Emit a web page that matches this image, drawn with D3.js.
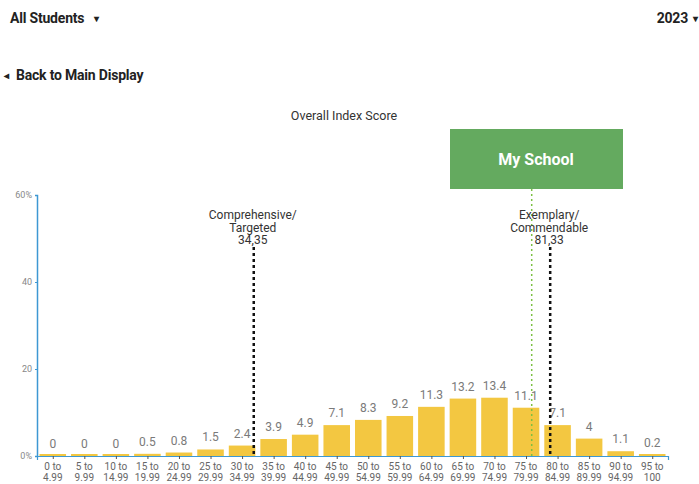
<!DOCTYPE html>
<html>
<head>
<meta charset="utf-8">
<script src="https://cdn.jsdelivr.net/npm/d3@7"></script>
<style>
  body { margin: 0; background: #fff; font-family: Roboto, "Noto Sans", sans-serif; }
  #chart { width: 699px; height: 484px; }
</style>
</head>
<body>
<div id="chart"></div>
<script>
// bins of the overall index score, in steps of 5
const binStarts = [0, 5, 10, 15, 20, 25, 30, 35, 40, 45, 50, 55, 60, 65, 70, 75, 80, 85, 90, 95];
const binLabels = [
  ['0 to', '4.99'], ['5 to', '9.99'], ['10 to', '14.99'], ['15 to', '19.99'],
  ['20 to', '24.99'], ['25 to', '29.99'], ['30 to', '34.99'], ['35 to', '39.99'],
  ['40 to', '44.99'], ['45 to', '49.99'], ['50 to', '54.99'], ['55 to', '59.99'],
  ['60 to', '64.99'], ['65 to', '69.99'], ['70 to', '74.99'], ['75 to', '79.99'],
  ['80 to', '84.99'], ['85 to', '89.99'], ['90 to', '94.99'], ['95 to', '100'],
];
const percents = [0, 0, 0, 0.5, 0.8, 1.5, 2.4, 3.9, 4.9, 7.1, 8.3, 9.2, 11.3, 13.2, 13.4, 11.1, 7.1, 4, 1.1, 0.2];
const yTicks = [0, 20, 40, 60];
const cutoffs = [
  { lines: ['Comprehensive/', 'Targeted', '34,35'], value: 34.35 },
  { lines: ['Exemplary/', 'Commendable', '81,33'], value: 81.33 },
];
const mySchool = 78.4;

const width = 699;
const height = 484;

const svg = d3.select('#chart')
  .append('svg')
  .attr('width', width)
  .attr('height', height);

const x = d3.scaleLinear().domain([0, 100]).range([37, 668]);
const y = d3.scaleLinear().domain([0, 60]).range([456, 195]);
const binW = x(5) - x(0);

// page header
const header = (tx, ty, str, anchor) => svg.append('text')
  .attr('x', tx).attr('y', ty)
  .attr('text-anchor', anchor || 'start')
  .style('font-size', '14px').style('font-weight', 'bold').style('fill', '#222')
  .style('letter-spacing', '-0.2px')
  .text(str);
header(10, 23, 'All Students');
header(94, 22, '\u25BE').style('font-size', '10px');
header(688, 23, '2023', 'end');
header(693, 22, '\u25BE').style('font-size', '10px');
header(4, 79, '\u25C2').style('font-size', '10px');
header(16, 80, 'Back to Main Display');

svg.append('text')
  .attr('x', 344).attr('y', 120)
  .attr('text-anchor', 'middle')
  .style('font-size', '12.5px').style('fill', '#333')
  .text('Overall Index Score');

// bars
svg.append('g')
  .selectAll('rect')
  .data(percents)
  .join('rect')
  .attr('x', (d, i) => x(binStarts[i]) + 2.5)
  .attr('width', binW - 5)
  .attr('y', (d) => Math.min(y(d), y(0) - 2))
  .attr('height', (d) => Math.max(y(0) - y(d), 2))
  .style('fill', '#f3c741');

svg.append('g')
  .selectAll('text')
  .data(percents)
  .join('text')
  .attr('x', (d, i) => x(binStarts[i]) + binW / 2)
  .attr('y', (d) => y(d) - 8)
  .attr('text-anchor', 'middle')
  .style('font-size', '12px').style('fill', '#7a7a7a')
  .text((d) => d);

// axes
const yAxis = svg.append('g')
  .attr('transform', `translate(${x(0)},0)`)
  .call(d3.axisLeft(y).tickValues(yTicks).tickSize(2)
    .tickFormat((d) => (d === 0 || d === 60 ? `${d}%` : d)));
yAxis.select('.domain').attr('stroke', '#3d98d3').attr('stroke-width', 1.5);
yAxis.selectAll('.tick line').attr('stroke', '#3d98d3');
yAxis.selectAll('text').style('font-size', '9px').style('fill', '#888')
  .style('font-family', 'Roboto, sans-serif');

const xAxis = svg.append('g')
  .attr('transform', `translate(0,${y(0)})`)
  .call(d3.axisBottom(x).tickValues(binStarts.map((d) => d + 2.5)).tickSize(3)
    .tickSizeOuter(4).tickFormat(''));
xAxis.select('.domain').attr('stroke', '#3d98d3').attr('stroke-width', 1.2);
xAxis.selectAll('.tick line').attr('stroke', '#555');

svg.append('g')
  .selectAll('text')
  .data(binLabels)
  .join('text')
  .attr('x', (d, i) => x(binStarts[i]) + binW / 2)
  .attr('y', 470)
  .attr('text-anchor', 'middle')
  .style('font-size', '10px').style('fill', '#666')
  .selectAll('tspan')
  .data((d) => d)
  .join('tspan')
  .attr('x', function () { return d3.select(this.parentNode).attr('x'); })
  .attr('dy', (d, i) => (i === 0 ? 0 : 11))
  .text((d) => d);

// my school marker
svg.append('rect')
  .attr('x', 450).attr('y', 129)
  .attr('width', 173).attr('height', 60)
  .style('fill', '#64aa5f');
svg.append('text')
  .attr('x', 536).attr('y', 165)
  .attr('text-anchor', 'middle')
  .style('font-size', '16px').style('font-weight', 'bold').style('fill', '#fff')
  .text('My School');
svg.append('line')
  .attr('x1', x(mySchool)).attr('x2', x(mySchool))
  .attr('y1', 189).attr('y2', y(0))
  .attr('stroke', '#7cc043').attr('stroke-width', 1.5)
  .attr('stroke-dasharray', '2,3');

// cutoff lines
const cut = svg.append('g')
  .selectAll('g')
  .data(cutoffs)
  .join('g');
cut.append('line')
  .attr('x1', (d) => x(d.value)).attr('x2', (d) => x(d.value))
  .attr('y1', 247).attr('y2', y(0))
  .attr('stroke', '#111').attr('stroke-width', 2.5)
  .attr('stroke-dasharray', '3,3');
cut.append('text')
  .attr('text-anchor', 'middle')
  .style('font-size', '12px').style('fill', '#333')
  .selectAll('tspan')
  .data((d) => d.lines.map((t) => ({ t, v: d.value })))
  .join('tspan')
  .attr('x', (d) => x(d.v) - 1)
  .attr('y', (d, i) => 219 + i * 12.5)
  .text((d) => d.t);
</script>
</body>
</html>
